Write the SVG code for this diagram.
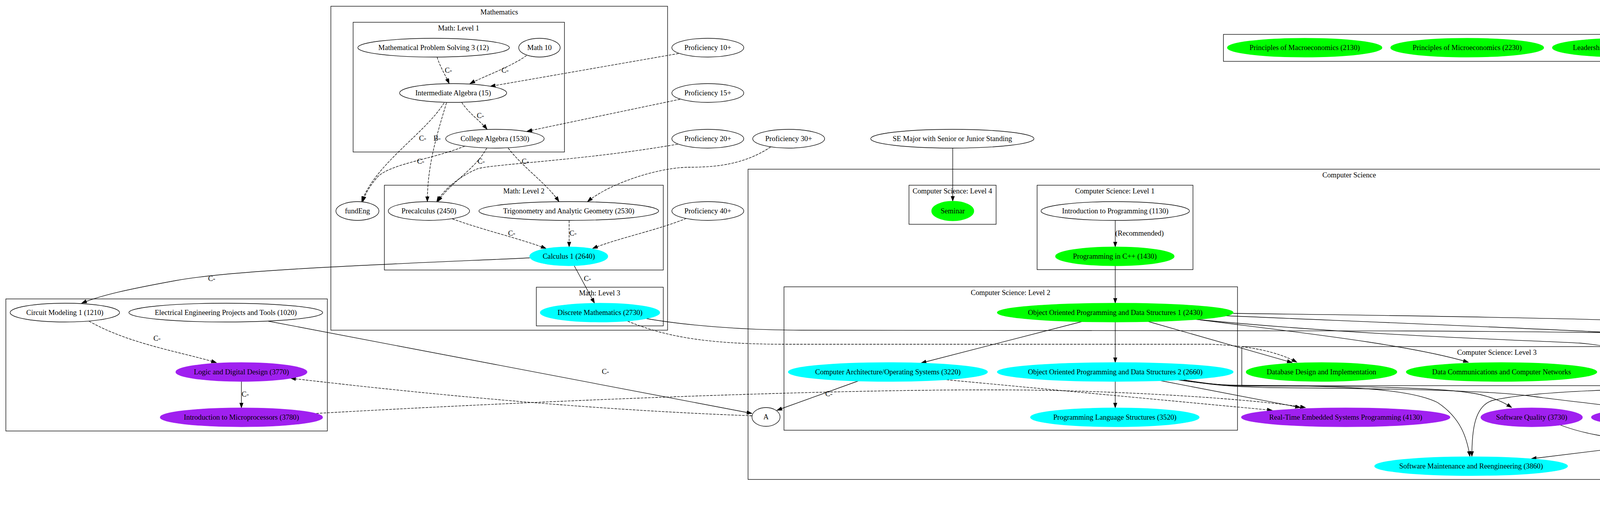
<svg xmlns="http://www.w3.org/2000/svg" width="5591" height="1341" viewBox="0 0 5591 1341">
<defs>
<style>
.n{fill:#fff;stroke:#000;stroke-width:1.33}
.g{fill:#00ff00;stroke:#00ff00;stroke-width:1.33}
.c{fill:#00ffff;stroke:#00ffff;stroke-width:1.33}
.p{fill:#a020f0;stroke:#a020f0;stroke-width:1.33}
.cl{fill:none;stroke:#000;stroke-width:1.33}
.e{fill:none;stroke:#000;stroke-width:1.33;marker-end:url(#ah)}
.d{stroke-dasharray:6.67,2.67}
text{font-family:"Liberation Serif","Times New Roman",serif;font-size:18.67px;text-anchor:middle;fill:#000}
.ls{text-anchor:start}
</style>
<marker id="ah" markerWidth="14" markerHeight="10" refX="13.3" refY="4.67" orient="auto" markerUnits="userSpaceOnUse">
<path d="M0,0 L13.3,4.67 L0,9.33 z" fill="#000" stroke="#000" stroke-width="1"/>
</marker>
</defs>
<rect x="0" y="0" width="5591" height="1341" fill="#fff"/>

<g id="clusters">
<g id="cl_math"><rect class="cl" x="847" y="16" width="862" height="829"/><text x="1278" y="37">Mathematics</text></g>
<g id="cl_math1"><rect class="cl" x="904" y="57" width="541" height="332"/><text x="1174" y="78">Math: Level 1</text></g>
<g id="cl_math2"><rect class="cl" x="984" y="474" width="714" height="217"/><text x="1341" y="495">Math: Level 2</text></g>
<g id="cl_math3"><rect class="cl" x="1373" y="735" width="325" height="99"/><text x="1535" y="756">Math: Level 3</text></g>
<g id="cl_ee"><rect class="cl" x="15" y="765" width="823" height="338"/></g>
<g id="cl_econ"><rect class="cl" x="3132" y="88" width="1227" height="69"/></g>
<g id="cl_cs"><rect class="cl" x="1915" y="433" width="3078" height="794"/><text x="3454" y="454">Computer Science</text></g>
<g id="cl_cs4"><rect class="cl" x="2327" y="474" width="223" height="100"/><text x="2438" y="495">Computer Science: Level 4</text></g>
<g id="cl_cs1"><rect class="cl" x="2655" y="474" width="399" height="216"/><text x="2854" y="495">Computer Science: Level 1</text></g>
<g id="cl_cs2"><rect class="cl" x="2007" y="734" width="1161" height="367"/><text x="2587" y="755">Computer Science: Level 2</text></g>
<g id="cl_cs3"><rect class="cl" x="3179" y="887" width="1307" height="100"/><text x="3832" y="908">Computer Science: Level 3</text></g>
<g id="cl_se"><rect class="cl" x="5155" y="1127" width="419" height="197"/><text x="5364" y="1148">Software Engineering</text></g>
</g>

<g id="edges">
<path class="e d" d="M1119,146 C1126,170 1140,192 1150,214"/>
<text x="1148" y="186">C-</text>
<path class="e d" d="M1348,142 C1310,170 1240,195 1203,214"/>
<text x="1293" y="186">C-</text>
<path class="e d" d="M1737,137 L1255,221"/>
<path class="e d" d="M1182,262 C1200,290 1230,310 1247,331"/>
<text x="1230" y="302">C-</text>
<path class="e d" d="M1741,254 L1349,336"/>
<path class="e d" d="M1137,263 C1090,340 960,420 926,516"/>
<text x="1082" y="360">C-</text>
<path class="e d" d="M1143,263 C1120,340 1094,420 1094,516"/>
<text x="1119" y="360">B-</text>
<path class="e d" d="M1190,374 C1100,410 990,420 962,458 C946,478 934,498 929,516"/>
<text x="1077" y="419">C-</text>
<path class="e d" d="M1246,379 C1220,430 1150,470 1121,516"/>
<text x="1232" y="419">C-</text>
<path class="e d" d="M1735,369 C1500,410 1260,420 1222,432 C1180,450 1140,480 1118,516"/>
<path class="e d" d="M1301,379 C1340,430 1400,470 1431,516"/>
<text x="1345" y="419">C-</text>
<path class="e d" d="M1973,376 C1900,425 1820,428 1760,428 C1680,430 1560,470 1504,516"/>
<path class="e d" d="M1158,560 C1240,590 1330,610 1398,636"/>
<text x="1310" y="603">C-</text>
<path class="e d" d="M1457,564 L1457,632"/>
<text x="1467" y="603">C-</text>
<path class="e d" d="M1757,559 C1680,590 1580,610 1517,636"/>
<path class="e" d="M1470,680 L1522,776"/>
<text x="1504" y="719">C-</text>
<path class="e" d="M1356,660 C1000,676 600,690 450,718 C330,740 260,755 209,776"/>
<text x="542" y="719">C-</text>
<path class="e d" d="M228,822 C330,880 460,900 554,928"/>
<text x="402" y="872">C-</text>
<path class="e" d="M618,976 L618,1044"/>
<text x="628" y="1015">C-</text>
<path class="e" d="M687,822 L1925,1058"/>
<text x="1550" y="957">C-</text>
<path class="e d" d="M1925,1064 Q1400,1045 744,968"/>
<path class="e d" d="M810,1058 C1300,1030 2200,990 2680,999 C2900,1003 3200,1020 3342,1043"/>
<text x="2122" y="1014">C-</text>
<path class="e d" d="M2414,971 L3257,1050"/>
<path class="e" d="M2197,975 L1989,1050"/>
<path class="e" d="M2439,379 L2439,515"/>
<path class="e" d="M2855,564 L2855,632"/>
<text class="ls" x="2855" y="603">(Recommended)</text>
<path class="e" d="M2855,680 L2855,776"/>
<path class="e" d="M2770,823 L2358,929"/>
<path class="e" d="M2855,824 L2855,928"/>
<path class="e" d="M2940,823 L3308,928"/>
<path class="e" d="M3060,817 C3300,848 3600,880 3759,927"/>
<path class="e" d="M3058,817 C3500,860 3900,870 4044,878 C4130,885 4190,905 4233,927"/>
<path class="e" d="M3137,808 C3700,832 4300,855 4450,872 C4550,885 4610,905 4656,928"/>
<path class="e" d="M3157,802 C3800,810 4400,820 4700,845 C4950,865 4990,900 4985,940 C4980,990 4930,1020 4883,1044"/>
<path class="e d" d="M1607,822 C1700,860 1800,880 2000,881 L3100,881 C3200,885 3270,900 3320,927"/>
<path class="e" d="M1653,815 C1750,832 1900,845 2050,845 L3600,847 C4200,850 4850,860 4960,880 C5100,920 5250,1000 5343,1169"/>
<path class="e" d="M2965,973 L3329,1043"/>
<path class="e" d="M3014,972 C3080,982 3130,986 3180,986 C3400,988 3600,990 3680,1030 C3740,1070 3755,1120 3763,1168"/>
<path class="e" d="M3030,972 C3100,984 3150,988 3200,988 C3450,988 3700,990 3790,1010 C3830,1020 3850,1030 3870,1043"/>
<path class="e" d="M3020,972 C3100,985 3150,990 3250,992 C3600,995 3800,1000 3906,1012 C4000,1025 4100,1035 4169,1045"/>
<path class="e" d="M2855,976 L2855,1044"/>
<path class="e" d="M4645,975 L4370,1044"/>
<path class="e" d="M4733,976 L4749,1044"/>
<path class="e" d="M4603,973 C4530,985 4480,990 4400,991 C4100,995 3900,1005 3820,1025 C3775,1040 3768,1100 3768,1168"/>
<path class="e" d="M4624,1088 L3920,1174"/>
<path class="e" d="M4848,1090 C4950,1125 5000,1122 5062,1122 C5150,1122 5230,1140 5297,1169"/>
<path class="e" d="M4404,1088 C4470,1100 4500,1105 4560,1105 L4830,1105 C4950,1108 5020,1130 5049,1169"/>
<path class="e" d="M3995,1088 C4080,1120 4160,1122 4250,1135 L5225,1273"/>
<path class="e" d="M5362,1217 L5363,1266"/>
</g>

<g id="n_mps3"><ellipse class="n" cx="1110" cy="122" rx="194" ry="24"/><text x="1110" y="128">Mathematical Problem Solving 3 (12)</text></g>
<g id="n_math10"><ellipse class="n" cx="1381" cy="122" rx="53" ry="24"/><text x="1381" y="128">Math 10</text></g>
<g id="n_intalg"><ellipse class="n" cx="1160" cy="238" rx="137" ry="24"/><text x="1160" y="244">Intermediate Algebra (15)</text></g>
<g id="n_collalg"><ellipse class="n" cx="1267" cy="355" rx="126" ry="24"/><text x="1267" y="361">College Algebra (1530)</text></g>
<g id="n_prof10"><ellipse class="n" cx="1812" cy="122" rx="92" ry="24"/><text x="1812" y="128">Proficiency 10+</text></g>
<g id="n_prof15"><ellipse class="n" cx="1812" cy="238" rx="92" ry="24"/><text x="1812" y="244">Proficiency 15+</text></g>
<g id="n_prof20"><ellipse class="n" cx="1812" cy="355" rx="92" ry="24"/><text x="1812" y="361">Proficiency 20+</text></g>
<g id="n_prof30"><ellipse class="n" cx="2019" cy="355" rx="92" ry="24"/><text x="2019" y="361">Proficiency 30+</text></g>
<g id="n_semajor"><ellipse class="n" cx="2438" cy="355" rx="209" ry="24"/><text x="2438" y="361">SE Major with Senior or Junior Standing</text></g>
<g id="n_fundeng"><ellipse class="n" cx="915" cy="540" rx="55" ry="24"/><text x="915" y="546">fundEng</text></g>
<g id="n_precalc"><ellipse class="n" cx="1098" cy="540" rx="104" ry="24"/><text x="1098" y="546">Precalculus (2450)</text></g>
<g id="n_trig"><ellipse class="n" cx="1456" cy="540" rx="230" ry="24"/><text x="1456" y="546">Trigonometry and Analytic Geometry (2530)</text></g>
<g id="n_prof40"><ellipse class="n" cx="1812" cy="540" rx="92" ry="24"/><text x="1812" y="546">Proficiency 40+</text></g>
<g id="n_calc1"><ellipse class="c" cx="1456" cy="656" rx="100" ry="24"/><text x="1456" y="662">Calculus 1 (2640)</text></g>
<g id="n_discrete"><ellipse class="c" cx="1536" cy="800" rx="153" ry="24"/><text x="1536" y="806">Discrete Mathematics (2730)</text></g>
<g id="n_circuit"><ellipse class="n" cx="166" cy="800" rx="140" ry="24"/><text x="166" y="806">Circuit Modeling 1 (1210)</text></g>
<g id="n_eeproj"><ellipse class="n" cx="578" cy="800" rx="248" ry="24"/><text x="578" y="806">Electrical Engineering Projects and Tools (1020)</text></g>
<g id="n_logic"><ellipse class="p" cx="618" cy="952" rx="168" ry="24"/><text x="618" y="958">Logic and Digital Design (3770)</text></g>
<g id="n_micro"><ellipse class="p" cx="618" cy="1068" rx="208" ry="24"/><text x="618" y="1074">Introduction to Microprocessors (3780)</text></g>
<g id="n_seminar"><ellipse class="g" cx="2439" cy="540" rx="54" ry="25"/><text x="2439" y="546">Seminar</text></g>
<g id="n_introprog"><ellipse class="n" cx="2855" cy="540" rx="190" ry="24"/><text x="2855" y="546">Introduction to Programming (1130)</text></g>
<g id="n_cpp"><ellipse class="g" cx="2854" cy="656" rx="152" ry="24"/><text x="2854" y="662">Programming in C++ (1430)</text></g>
<g id="n_oopds1"><ellipse class="g" cx="2855" cy="800" rx="302" ry="24"/><text x="2855" y="806">Object Oriented Programming and Data Structures 1 (2430)</text></g>
<g id="n_comparch"><ellipse class="c" cx="2273" cy="952" rx="255" ry="24"/><text x="2273" y="958">Computer Architecture/Operating Systems (3220)</text></g>
<g id="n_oopds2"><ellipse class="c" cx="2855" cy="952" rx="302" ry="24"/><text x="2855" y="958">Object Oriented Programming and Data Structures 2 (2660)</text></g>
<g id="n_pls"><ellipse class="c" cx="2854" cy="1068" rx="216" ry="24"/><text x="2854" y="1074">Programming Language Structures (3520)</text></g>
<g id="n_a"><ellipse class="n" cx="1961" cy="1067" rx="36" ry="24"/><text x="1961" y="1073">A</text></g>
<g id="n_database"><ellipse class="g" cx="3383" cy="952" rx="193" ry="24"/><text x="3383" y="958">Database Design and Implementation</text></g>
<g id="n_datacomm"><ellipse class="g" cx="3844" cy="952" rx="244" ry="24"/><text x="3844" y="958">Data Communications and Computer Networks</text></g>
<g id="n_compsec"><ellipse class="g" cx="4294" cy="952" rx="182" ry="24"/><text x="4294" y="958">Introduction to Computer Security</text></g>
<g id="n_introse"><ellipse class="c" cx="4727" cy="952" rx="228" ry="24"/><text x="4727" y="958">Introduction to Software Engineering (2730)</text></g>
<g id="n_realtime"><ellipse class="p" cx="3445" cy="1068" rx="267" ry="24"/><text x="3445" y="1074">Real-Time Embedded Systems Programming (4130)</text></g>
<g id="n_swq"><ellipse class="p" cx="3921" cy="1068" rx="130" ry="24"/><text x="3921" y="1074">Software Quality (3730)</text></g>
<g id="n_ise"><ellipse class="p" cx="4289" cy="1068" rx="215" ry="24"/><text x="4289" y="1074">Intermediate Software Engineering (3330)</text></g>
<g id="n_ooad"><ellipse class="c" cx="4754" cy="1068" rx="228" ry="24"/><text x="4754" y="1074">Object Oriented Analysis and Design (3430)</text></g>
<g id="n_smr"><ellipse class="c" cx="3766" cy="1193" rx="247" ry="24"/><text x="3766" y="1199">Software Maintenance and Reengineering (3860)</text></g>
<g id="n_sofproject1"><ellipse class="n" cx="5074" cy="1193" rx="70" ry="24"/><text x="5074" y="1199">sofProject1</text></g>
<g id="n_sep1"><ellipse class="p" cx="5362" cy="1193" rx="194" ry="24"/><text x="5362" y="1199">Software Engineering Project 1 (4330)</text></g>
<g id="n_sep2"><ellipse class="p" cx="5364" cy="1290" rx="198" ry="24"/><text x="5364" y="1296">Software Engineering Project 2 (4730)</text></g>
<g id="n_macro"><ellipse class="g" cx="3340" cy="122" rx="198" ry="24"/><text x="3340" y="128">Principles of Macroeconomics (2130)</text></g>
<g id="n_microecon"><ellipse class="g" cx="3756" cy="122" rx="196" ry="24"/><text x="3756" y="128">Principles of Microeconomics (2230)</text></g>
<g id="n_leadership"><ellipse class="g" cx="4162" cy="122" rx="188" ry="24"/><text x="4162" y="128">Leadership and Management (2330)</text></g>
</svg>
